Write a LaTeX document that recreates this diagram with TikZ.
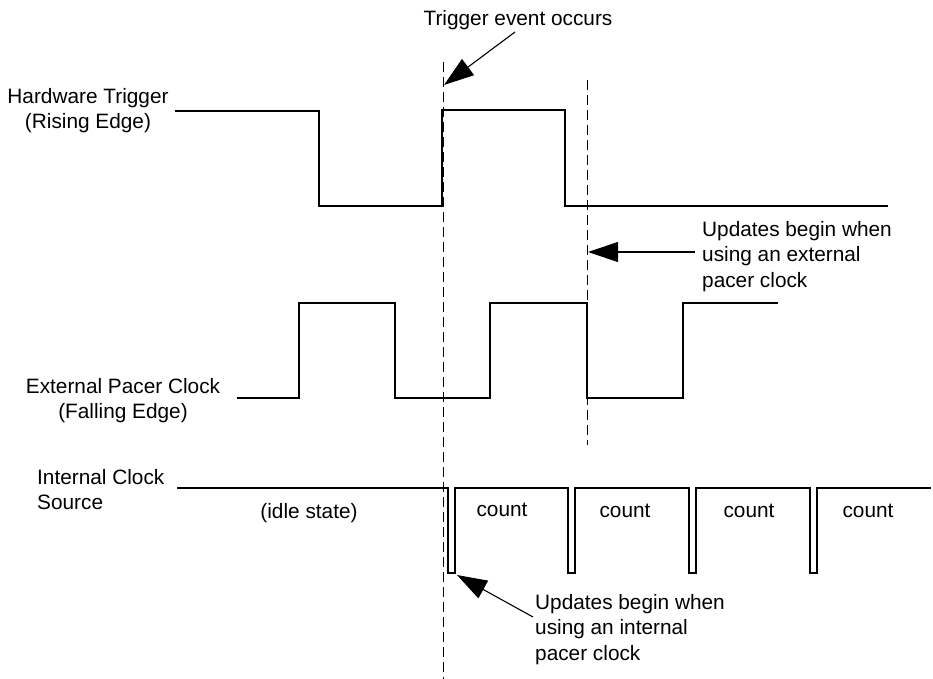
\documentclass[tikz,border=0pt]{standalone}
\usepackage{fontspec}
\setmainfont{Liberation Sans}
\usetikzlibrary{arrows.meta}
\begin{document}
\begin{tikzpicture}[x=1pt,y=-1pt,
  wave/.style={line width=1.2pt, line join=miter},
  guide/.style={line width=1pt, dash pattern=on 10pt off 5pt},
  lbl/.style={inner sep=0pt, font=\fontsize{20.8}{25.5}\selectfont},
  pointer/.style={line width=1.1pt, -{Triangle[length=30pt,width=20pt]}}]
\useasboundingbox (0,0) rectangle (933,679);

% guide lines
\coordinate (g1top) at (443,62);
\coordinate (g1bot) at (443,679);
\coordinate (g2top) at (587,80);
\coordinate (g2bot) at (587,445);
\draw[guide] (g1top) -- (g1bot);
\draw[guide] (g2top) -- (g2bot);

% hardware trigger
\draw[wave] (175,111) -- (319,111) -- (319,206) -- (442,206) -- (442,110) -- (565,110) -- (565,206) -- (888,206);
% external pacer clock
\draw[wave] (237,398) -- (299,398) -- (299,303) -- (395,303) -- (395,398) -- (490,398) -- (490,303) -- (587,303) -- (587,398) -- (683,398) -- (683,303) -- (778,303);
% internal clock
\draw[wave] (177,488) -- (448,488) -- (448,573) -- (455,573) -- (455,488)
  -- (568,488) -- (568,573) -- (575,573) -- (575,488)
  -- (689,488) -- (689,573) -- (696,573) -- (696,488)
  -- (810,488) -- (810,573) -- (817,573) -- (817,488) -- (931,488);

% labels
\node[lbl, anchor=base] (trig) at (518,26) {Trigger event occurs};
\node[lbl, anchor=north, align=center] (hw) at (88,88) {Hardware Trigger\\(Rising Edge)};
\node[lbl, anchor=north, align=center] (ext) at (123,378) {External Pacer Clock\\(Falling Edge)};
\node[lbl, anchor=north west, align=left] (int) at (37,469) {Internal Clock\\Source};
\node[lbl, anchor=base] (idle) at (309,518) {(idle state)};
\node[lbl, anchor=base] (c1) at (502,516) {count};
\node[lbl, anchor=base] (c2) at (625,517) {count};
\node[lbl, anchor=base] (c3) at (749,517) {count};
\node[lbl, anchor=base] (c4) at (868,517) {count};
\node[lbl, anchor=north west, align=left] (updext) at (702,221) {Updates begin when\\using an external\\pacer clock};
\node[lbl, anchor=north west, align=left] (updint) at (535,594) {Updates begin when\\using an internal\\pacer clock};

% pointers
\coordinate (t1) at (515,32);
\coordinate (h1) at (444,85);
\coordinate (t2) at (695,252);
\coordinate (h2) at (588,252);
\coordinate (t3) at (533,617);
\coordinate (h3) at (457,575);
\draw[pointer] (t1) -- (h1);
\draw[pointer] (t2) -- (h2);
\draw[pointer] (t3) -- (h3);
\end{tikzpicture}
\end{document}
